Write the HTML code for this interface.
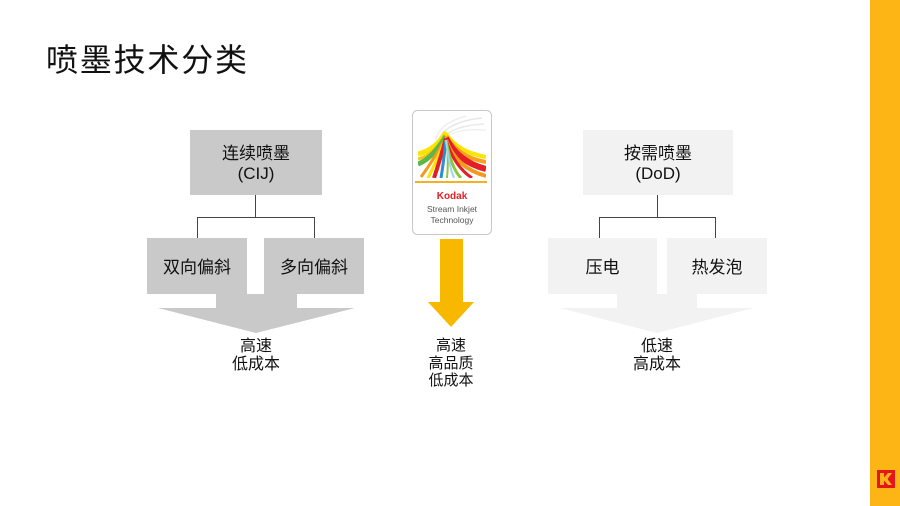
<!DOCTYPE html>
<html><head><meta charset="utf-8"><style>
html,body{margin:0;padding:0;}
body{width:900px;height:506px;position:relative;overflow:hidden;background:#fff;font-family:"Liberation Sans","Noto Sans CJK SC",sans-serif;color:#111;}
.abs{position:absolute;}
.box{position:absolute;display:flex;align-items:center;justify-content:center;text-align:center;font-size:17px;line-height:20px;color:#111;box-sizing:border-box;padding-top:3px;}
.g{background:#c9c9c9;}
.l{background:#f2f2f2;}
.t{position:absolute;text-align:center;font-size:16px;line-height:18px;color:#111;}
</style></head><body>
<div class="abs" style="left:46px;top:40px;font-size:32px;line-height:40px;color:#111;letter-spacing:1.8px;">喷墨技术分类</div>
<div class="abs" style="left:870px;top:0;width:30px;height:506px;background:#fdb515;"></div>
<svg class="abs" style="left:877px;top:470px" width="18" height="18" viewBox="0 0 18 18">
<rect x="0" y="0" width="18" height="18" fill="#e4161b"/>
<path d="M3 3 L7 3 L7 7.5 L11 3 L15 3 L10.5 9 L15 15 L11 15 L7 10.5 L7 15 L3 15 Z" fill="#fdb515"/>
</svg>

<svg class="abs" style="left:0;top:0" width="900" height="506">
<defs><clipPath id="c"><rect x="418" y="112" width="68" height="66"/></clipPath></defs>
<!-- left group lines -->
<g stroke="#444" stroke-width="1" fill="none">
<path d="M255.5 195 V217.5 M197.5 238 V217.5 H314.5 V238"/>
<path d="M657.5 195 V217.5 M599.5 238 V217.5 H715.5 V238"/>
</g>
<!-- left arrow -->
<path d="M216 294 H297 V308 H355 L256 333 L158 308 H216 Z" fill="#c9c9c9"/>
<!-- right arrow -->
<path d="M617 294 H697 V308 H753 L657 333 L560 308 H617 Z" fill="#f2f2f2"/>
<!-- middle arrow -->
<path d="M440 239 H463 V302 H474 L451 327 L428 302 H440 Z" fill="#f8b800"/>
<!-- logo card -->
<rect x="412.5" y="110.5" width="79" height="124" rx="5" fill="#fff" stroke="#c8c8c8" stroke-width="1"/>
<g clip-path="url(#c)" fill="none" stroke-linecap="butt">
<path d="M438 142 Q444 122 482 118" stroke="#e6e6e6" stroke-width="1.5"/>
<path d="M441 142 Q448 126 484 124" stroke="#e9e9e9" stroke-width="1.5"/>
<path d="M436 140 Q438 124 466 116" stroke="#ececec" stroke-width="1.2"/>
<path d="M444 140 Q452 128 486 130" stroke="#eeeeee" stroke-width="1.2"/>
<path d="M446 132 Q436 150 418 154" stroke="#fce300" stroke-width="5"/>
<path d="M446 134 Q434 155 418 159" stroke="#f7c51b" stroke-width="3"/>
<path d="M446 136 Q432 159 418 164" stroke="#5bb846" stroke-width="5"/>
<path d="M446 138 Q432 162 421 177" stroke="#f39a1e" stroke-width="3"/>
<path d="M446 138 Q436 162 428 178" stroke="#fce300" stroke-width="3"/>
<path d="M446 138 Q440 160 434 178" stroke="#e31e24" stroke-width="4"/>
<path d="M446 138 Q444 160 441 178" stroke="#2a8fd0" stroke-width="3"/>
<path d="M446 138 Q449 160 447 178" stroke="#8cc63f" stroke-width="2"/>
<path d="M446 134 Q458 152 486 157" stroke="#fce300" stroke-width="4"/>
<path d="M446 136 Q458 157 486 162" stroke="#f7a21b" stroke-width="4"/>
<path d="M446 138 Q458 162 486 169" stroke="#e31e24" stroke-width="6"/>
<path d="M446 140 Q456 168 486 176" stroke="#f39a1e" stroke-width="4"/>
<path d="M446 140 Q454 166 472 178" stroke="#e31e24" stroke-width="3"/>
<path d="M446 140 Q451 168 461 178" stroke="#8cc63f" stroke-width="3"/>
<path d="M446 140 Q449 166 454 178" stroke="#9fd4f0" stroke-width="2"/>
</g>
<rect x="415" y="181" width="72" height="2" fill="#f4b223"/>
<text x="452" y="199" text-anchor="middle" font-family="Liberation Sans, sans-serif" font-size="10" font-weight="bold" fill="#e31e24">Kodak</text>
<text x="452" y="212" text-anchor="middle" font-family="Liberation Sans, sans-serif" font-size="8.5" fill="#555">Stream Inkjet</text>
<text x="452" y="223" text-anchor="middle" font-family="Liberation Sans, sans-serif" font-size="8.5" fill="#555">Technology</text>
</svg>

<div class="box g" style="left:190px;top:130px;width:132px;height:65px;">连续喷墨<br>(CIJ)</div>
<div class="box g" style="left:147px;top:238px;width:100px;height:56px;">双向偏斜</div>
<div class="box g" style="left:264px;top:238px;width:100px;height:56px;">多向偏斜</div>
<div class="t" style="left:196px;top:338px;width:120px;">高速<br>低成本</div>

<div class="box l" style="left:583px;top:130px;width:150px;height:65px;">按需喷墨<br>(DoD)</div>
<div class="box l" style="left:548px;top:238px;width:109px;height:56px;">压电</div>
<div class="box l" style="left:667px;top:238px;width:100px;height:56px;">热发泡</div>
<div class="t" style="left:597px;top:338px;width:120px;">低速<br>高成本</div>

<div class="t" style="left:391px;top:337px;width:120px;font-size:15px;line-height:17.5px;">高速<br>高品质<br>低成本</div>
</body></html>
